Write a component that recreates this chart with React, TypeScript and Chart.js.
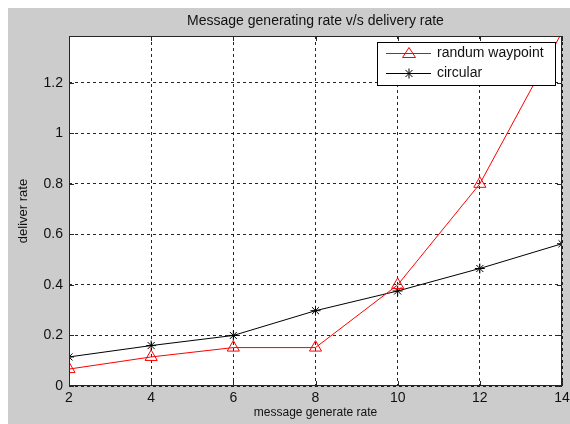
import { useEffect, useRef } from "react";
import { Chart, registerables } from "chart.js";
Chart.register(...registerables);

const messageRates = [2, 4, 6, 8, 10, 12, 14];
const randumWaypoint = [0.067, 0.115, 0.152, 0.152, 0.4, 0.8, 1.4];
const circular = [0.115, 0.16, 0.2, 0.298, 0.376, 0.465, 0.563];
const xTicks = [2, 4, 6, 8, 10, 12, 14];
const yTicks = [0, 0.2, 0.4, 0.6, 0.8, 1, 1.2];
const seriesNames = ["randum waypoint", "circular"];
const chartTitle = "Message generating rate v/s delivery rate";
const xTitle = "message generate rate";
const yTitle = "deliver rate";
const Y_MIN = 0;
const Y_MAX = 1.385;

const FONT = "'Liberation Sans', Arial, sans-serif";

const bgPlugin = {
  id: "bgPlugin",
  beforeDraw(chart: any) {
    const { ctx, chartArea: a } = chart;
    ctx.save();
    ctx.fillStyle = "#cccccc";
    ctx.fillRect(0, 0, chart.width, chart.height);
    ctx.fillStyle = "#ffffff";
    ctx.fillRect(a.left, a.top, a.right - a.left, a.bottom - a.top);
    // title, centred over the plot area
    ctx.fillStyle = "#111111";
    ctx.font = `14px ${FONT}`;
    ctx.textAlign = "center";
    ctx.textBaseline = "alphabetic";
    ctx.fillText(chartTitle, (a.left + a.right) / 2, a.top - 11);
    ctx.restore();
  },
};

const framePlugin = {
  id: "framePlugin",
  afterDatasetsDraw(chart: any) {
    const { ctx, chartArea: a, scales } = chart;
    ctx.save();
    ctx.strokeStyle = "#262626";
    ctx.lineWidth = 1;
    ctx.setLineDash([]);
    const len = 5;
    ctx.beginPath();
    for (const t of scales.x.ticks) {
      const x = Math.round(scales.x.getPixelForValue(t.value)) + 0.5;
      ctx.moveTo(x, a.bottom);
      ctx.lineTo(x, a.bottom - len);
      ctx.moveTo(x, a.top);
      ctx.lineTo(x, a.top + len);
    }
    for (const t of scales.y.ticks) {
      const y = Math.round(scales.y.getPixelForValue(t.value)) + 0.5;
      ctx.moveTo(a.left, y);
      ctx.lineTo(a.left + len, y);
      ctx.moveTo(a.right, y);
      ctx.lineTo(a.right - len, y);
    }
    ctx.stroke();
    ctx.strokeRect(
      Math.round(a.left) + 0.5,
      Math.round(a.top) + 0.5,
      Math.round(a.right - a.left) - 1,
      Math.round(a.bottom - a.top) - 1
    );

    // legend box
    const bx = Math.round(a.right) - 185;
    const by = Math.round(a.top) + 6;
    const bw = 178;
    const bh = 43;
    ctx.fillStyle = "#ffffff";
    ctx.fillRect(bx, by, bw, bh);
    ctx.strokeStyle = "#000000";
    ctx.strokeRect(bx + 0.5, by + 0.5, bw, bh);
    const colors = ["#ff0000", "#000000"];
    const rows = [by + 11.5, by + 31.5];
    ctx.font = `14px ${FONT}`;
    ctx.textBaseline = "middle";
    ctx.textAlign = "left";
    for (let i = 0; i < 2; i++) {
      const y = rows[i];
      ctx.strokeStyle = colors[i];
      ctx.beginPath();
      ctx.moveTo(bx + 9, y);
      ctx.lineTo(bx + 54, y);
      ctx.stroke();
      const mx = bx + 32;
      if (i === 0) {
        ctx.beginPath();
        ctx.moveTo(mx, y - 6);
        ctx.lineTo(mx + 6.5, y + 4);
        ctx.lineTo(mx - 6.5, y + 4);
        ctx.closePath();
        ctx.stroke();
      } else {
        const r = 5;
        ctx.beginPath();
        for (let k = 0; k < 4; k++) {
          const ang = (k * Math.PI) / 4;
          ctx.moveTo(mx - r * Math.cos(ang), y - r * Math.sin(ang));
          ctx.lineTo(mx + r * Math.cos(ang), y + r * Math.sin(ang));
        }
        ctx.stroke();
      }
      ctx.fillStyle = "#111111";
      ctx.fillText(seriesNames[i], bx + 60, y);
    }
    ctx.restore();
  },
};

const fmt = (v: any) => String(Number(Number(v).toFixed(2)));

export default function App() {
  const ref = useRef<HTMLCanvasElement | null>(null);
  useEffect(() => {
    if (!ref.current) return;
    const chart = new Chart(ref.current, {
      type: "line",
      data: {
        datasets: [
          {
            label: seriesNames[0],
            data: messageRates.map((x, i) => ({ x, y: randumWaypoint[i] })),
            borderColor: "#ff0000",
            backgroundColor: "rgba(0,0,0,0)",
            borderWidth: 1,
            pointStyle: "triangle",
            pointRadius: messageRates.map((_, i) => (randumWaypoint[i] > Y_MAX ? 0 : 7)),
            pointBorderColor: "#ff0000",
            pointBorderWidth: 1,
            pointBackgroundColor: "rgba(0,0,0,0)",
            tension: 0,
          },
          {
            label: seriesNames[1],
            data: messageRates.map((x, i) => ({ x, y: circular[i] })),
            borderColor: "#000000",
            backgroundColor: "rgba(0,0,0,0)",
            borderWidth: 1,
            pointStyle: "star",
            pointRadius: 5,
            pointBorderColor: "#000000",
            pointBorderWidth: 1,
            tension: 0,
          },
        ],
      },
      options: {
        animation: false,
        responsive: false,
        layout: { padding: { left: 0, right: 7, top: 28, bottom: 0 } },
        plugins: {
          legend: { display: false },
          tooltip: { enabled: false },
          title: { display: false },
        },
        scales: {
          x: {
            type: "linear",
            min: xTicks[0],
            max: xTicks[xTicks.length - 1],
            afterBuildTicks: (s: any) => {
              s.ticks = xTicks.map((v) => ({ value: v }));
            },
            afterFit: (s: any) => {
              s.height = 38;
              s.paddingLeft = 0;
              s.paddingRight = 0;
            },
            border: { display: false, dash: [3, 3] },
            grid: {
              color: "rgba(0,0,0,0.85)",
              drawTicks: false,
            },
            ticks: {
              color: "#111111",
              font: { family: FONT, size: 14 },
              padding: 4,
              maxRotation: 0,
              autoSkip: false,
              callback: fmt,
            },
            title: {
              display: true,
              text: xTitle,
              color: "#111111",
              font: { family: FONT, size: 12 },
              padding: { top: 0, bottom: 4 },
            },
          },
          y: {
            type: "linear",
            min: Y_MIN,
            max: Y_MAX,
            afterBuildTicks: (s: any) => {
              s.ticks = yTicks.map((v) => ({ value: v }));
            },
            afterFit: (s: any) => {
              s.width = 61;
              s.paddingTop = 0;
              s.paddingBottom = 0;
            },
            border: { display: false, dash: [3, 3] },
            grid: {
              color: "rgba(0,0,0,0.85)",
              drawTicks: false,
            },
            ticks: {
              color: "#111111",
              font: { family: FONT, size: 14 },
              padding: 6,
              autoSkip: false,
              callback: fmt,
            },
            title: {
              display: true,
              text: yTitle,
              color: "#111111",
              font: { family: FONT, size: 13 },
              padding: { top: 8, bottom: 0 },
            },
          },
        },
      },
      plugins: [bgPlugin, framePlugin],
    } as any);
    return () => chart.destroy();
  }, []);
  return (
    <div style={{ position: "fixed", left: 8, top: 8, width: 562, height: 416 }}>
      <canvas ref={ref} width={562} height={416} style={{ display: "block" }} />
    </div>
  );
}
